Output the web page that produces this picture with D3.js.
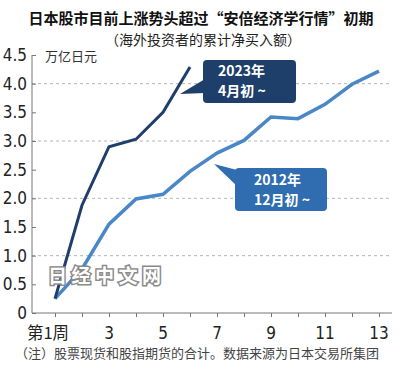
<!DOCTYPE html>
<html><head><meta charset="utf-8">
<script src="https://cdn.jsdelivr.net/npm/d3@7"></script>
<style>
html,body{margin:0;padding:0;background:#fff;}
svg{display:block;}
.num{font-family:"Liberation Sans Narrow","DejaVu Sans Condensed","Liberation Sans",sans-serif;}
.cjk{font-family:"Noto Sans CJK SC","Noto Sans",sans-serif;}
</style></head>
<body>
<svg id="c" width="400" height="369"></svg>
<script>
const weeks = [1,2,3,4,5,6,7,8,9,10,11,12,13];
const series2023 = [0.25,1.88,2.90,3.03,3.50,4.29];
const series2012 = [0.25,0.77,1.55,1.99,2.07,2.47,2.79,3.01,3.42,3.39,3.64,3.99,4.22];
const yTicks = [0,0.5,1.0,1.5,2.0,2.5,3.0,3.5,4.0,4.5];
const yTickLabels = ["0","0.5","1.0","1.5","2.0","2.5","3.0","3.5","4.0","4.5"];
const gridValues = [1.0,2.0,3.0,4.0];
const xLabelWeeks = [1,3,5,7,9,11,13];
const xLabels = ["第1周","3","5","7","9","11","13"];
const title = "日本股市目前上涨势头超过“安倍经济学行情”初期";
const subtitle = "（海外投资者的累计净买入额）";
const unit = "万亿日元";
const note = "（注）股票现货和股指期货的合计。数据来源为日本交易所集团";
const label2023 = ["2023年","4月初 ~"];
const label2012 = ["2012年","12月初 ~"];
const watermark = "日经中文网";

const svg = d3.select("#c");
const x = d3.scaleLinear().domain([1,13]).range([55,379]);
const y = d3.scaleLinear().domain([0,4.5]).range([313,55]);
const axisLeft = 32, axisRight = 392;
const dark = "#1f3e6c", light = "#4a87c6";

// title
svg.append("text").attr("class","cjk").attr("x",201).attr("y",24)
  .attr("text-anchor","middle").attr("font-size",15).attr("font-weight",700)
  .attr("fill","#111").text(title);
svg.append("text").attr("class","cjk").attr("x",203).attr("y",45)
  .attr("text-anchor","middle").attr("font-size",14)
  .attr("fill","#222").text(subtitle);

// gridlines
svg.append("g").selectAll("line").data(gridValues).join("line")
  .attr("x1",axisLeft).attr("x2",axisRight)
  .attr("y1",d=>y(d)).attr("y2",d=>y(d))
  .attr("stroke","#b5b5b5").attr("stroke-width",1).attr("stroke-dasharray","3,3");

// y axis
const gy = svg.append("g").attr("transform",`translate(${axisLeft},0)`)
  .call(d3.axisRight(y).tickValues(yTicks).tickSize(4).tickFormat(""));
gy.select(".domain").attr("stroke","#777").attr("d",`M0,${y(4.5)}V${y(0)}`);
gy.selectAll(".tick line").attr("stroke","#777");
svg.append("g").selectAll("text").data(yTicks).join("text")
  .attr("class","num").attr("x",27).attr("y",d=>y(d)+6)
  .attr("text-anchor","end").attr("font-size",17).attr("fill","#222")
  .text((d,i)=>yTickLabels[i]);

svg.append("text").attr("class","cjk").attr("x",45).attr("y",61)
  .attr("font-size",13).attr("fill","#333").text(unit);

// x axis
const gx = svg.append("g").attr("transform",`translate(0,${y(0)})`)
  .call(d3.axisBottom(x).tickValues(weeks).tickSize(4).tickFormat(""));
gx.select(".domain").attr("stroke","#777").attr("d",`M${axisLeft},0H${axisRight}`);
gx.selectAll(".tick line").attr("stroke","#777");
svg.append("g").selectAll("text").data(xLabelWeeks).join("text")
  .attr("class",(d,i)=>i===0?"cjk":"num")
  .attr("x",(d,i)=>i===0?x(d)-7:x(d)).attr("y",339)
  .attr("text-anchor","middle").attr("font-size",(d,i)=>i===0?16.5:17).attr("fill","#222")
  .text((d,i)=>xLabels[i]);

// lines
const line = d3.line().x((d,i)=>x(weeks[i])).y(d=>y(d));
svg.append("path").datum(series2012).attr("d",line).attr("fill","none")
  .attr("stroke",light).attr("stroke-width",3.5).attr("stroke-linejoin","miter");
svg.append("path").datum(series2023).attr("d",line).attr("fill","none")
  .attr("stroke",dark).attr("stroke-width",3).attr("stroke-linejoin","miter");

// watermark
svg.append("text").attr("class","cjk").attr("x",48).attr("y",283)
  .attr("font-size",19).attr("font-weight",700).attr("letter-spacing",4.5)
  .attr("fill","#fff").attr("stroke","#8a8a8a").attr("stroke-width",3)
  .attr("paint-order","stroke").text(watermark);

// callouts
function callout(x0,y0,w,h,tip,base,col,lines,tx,ty1,ty2){
  const g = svg.append("g");
  g.append("polygon").attr("points",[tip,base[0],base[1]].map(p=>p.join(",")).join(" ")).attr("fill",col);
  g.append("rect").attr("x",x0).attr("y",y0).attr("width",w).attr("height",h).attr("rx",4).attr("fill",col);
  g.append("text").attr("class","cjk").attr("x",tx).attr("y",ty1).attr("font-size",14)
    .attr("font-weight",700).attr("fill","#fff").text(lines[0]);
  g.append("text").attr("class","cjk").attr("x",tx).attr("y",ty2).attr("font-size",14)
    .attr("font-weight",700).attr("fill","#fff").text(lines[1]);
}
callout(203,60,93,43,[180,94],[[205,79],[205,93]],"#1f3f6b",label2023,218,76,96);
callout(235,168,92,43,[214,164],[[237,170],[239,188]],"#2f6db0",label2012,254,185,205);

// note
svg.append("text").attr("class","cjk").attr("x",15).attr("y",358)
  .attr("font-size",13).attr("fill","#444").text(note);
</script>
</body></html>
